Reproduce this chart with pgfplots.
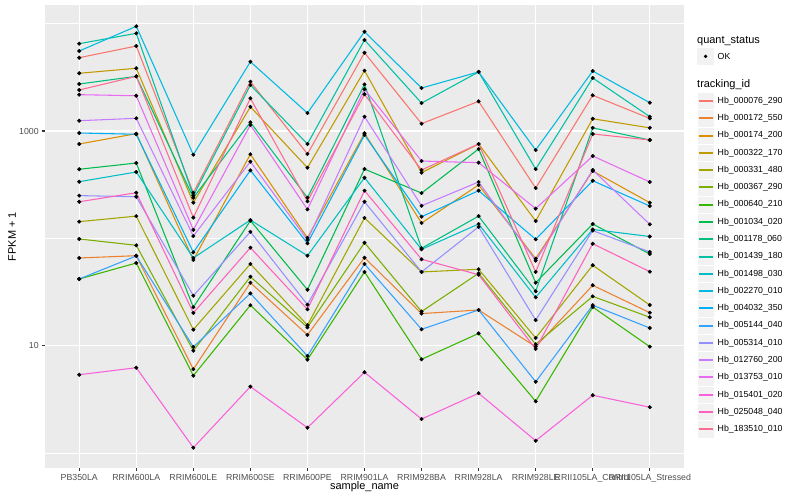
\documentclass[border=0pt]{standalone}
\usepackage{fontspec}
\setmainfont{Liberation Sans}
\usepackage{pgfplots}
\usepackage{pgfplotstable}
\pgfplotsset{compat=1.18}
\definecolor{bgc}{HTML}{EBEBEB}
\definecolor{keyc}{HTML}{F2F2F2}
\definecolor{grey30}{HTML}{4D4D4D}
\definecolor{grey20}{HTML}{333333}
\definecolor{k1}{HTML}{F8766D}
\definecolor{k2}{HTML}{EA8331}
\definecolor{k3}{HTML}{D89000}
\definecolor{k4}{HTML}{C09B00}
\definecolor{k5}{HTML}{A3A500}
\definecolor{k6}{HTML}{7CAE00}
\definecolor{k7}{HTML}{39B600}
\definecolor{k8}{HTML}{00BB4E}
\definecolor{k9}{HTML}{00BF7D}
\definecolor{k10}{HTML}{00C1A3}
\definecolor{k11}{HTML}{00BFC4}
\definecolor{k12}{HTML}{00BAE0}
\definecolor{k13}{HTML}{00B0F6}
\definecolor{k14}{HTML}{35A2FF}
\definecolor{k15}{HTML}{9590FF}
\definecolor{k16}{HTML}{C77CFF}
\definecolor{k17}{HTML}{E76BF3}
\definecolor{k18}{HTML}{FA62DB}
\definecolor{k19}{HTML}{FF62BC}
\definecolor{k20}{HTML}{FF6C91}
\pgfplotstableread{
x s1 s2 s3 s4 s5 s6 s7 s8 s9 s10 s11 s12 s13 s14 s15 s16 s17 s18 s19 s20
0 4820 65.6 757 3450 143 98.6 41.8 440 2740 6510 337 5560 958 41.8 250 1247 2180 5.36 219 2410
1 6190 68.9 944 3840 161 86.1 58.9 503 3230 8130 415 9450 932 68.5 244 1313 2130 6.23 266 3230
2 266 6.03 62.8 215 14.1 8.97 5.25 22.8 239 250 65.6 601 74.1 9.72 29.2 105 120 1.12 20.2 156
3 2880 38.6 607 1680 57.7 43.9 23.8 146 1205 2680 148 4420 430 30.7 115 518 1137 4.15 81.8 2017
4 611 12.6 101 455 15.5 14.8 7.40 33.2 239 757 68.9 1470 89.9 8.01 24.1 96.5 186 1.72 21.8 221
5 5360 66.0 952 3650 155 91.0 48.6 442 2720 7050 367 8420 918 57.7 219 1360 2447 5.65 278 2198
6 1170 19.9 139 409 48.6 20.8 7.46 264 80.8 1820 79.0 2515 159 14.2 48.6 201 525 2.07 63.8 433
7 1890 21.5 314 757 51.5 47.2 13.0 680 161 3550 136 3550 278 21.5 128 335 507 3.60 45.8 757
8 294 9.78 64.6 145 11.8 10.3 3.03 38.6 32.1 442 28.2 665 97.9 4.61 17.3 61.9 189 1.30 9.31 48.6
9 2150 36.5 424 1300 56.1 28.8 22.9 136 1070 3120 121 3620 344 23.8 118 433 585 3.45 89.1 938
10 1310 20.3 215 1070 23.9 18.4 9.78 71.4 824 1360 104 1835 200 14.6 74.6 135 335 2.67 48.9 824
}\data
\begin{document}
\begin{tikzpicture}[x=1bp,y=1bp]
\useasboundingbox (0,0) rectangle (800,500);
\begin{axis}[
  at={(45bp,32bp)}, anchor=south west,
  scale only axis, width=639bp, height=463bp,
  xmin=-0.6, xmax=10.6, ymode=log, ymin=0.7246, ymax=14930,
  axis background/.style={fill=bgc},
  axis line style={draw=none},
  xtick pos=bottom, ytick pos=left,
  xtick={0,...,10},
  xticklabels={PB350LA,RRIM600LA,RRIM600LE,RRIM600SE,RRIM600PE,RRIM901LA,RRIM928BA,RRIM928LA,RRIM928LE,RRII105LA\_Control,RRII105LA\_Stressed},
  ytick={10,1000}, yticklabels={10,1000},
  minor ytick={1,100,10000},
  grid=both,
  major grid style={white, line width=1.07bp},
  minor grid style={white, line width=0.53bp},
  tick align=outside, major tick length=2.75bp, minor tick length=0pt,
  tick style={color=grey20, line width=1.07bp},
  ticklabel style={font=\fontsize{8.8}{10}\selectfont, text=grey30},
  /pgf/number format/assume math mode=true,
  xlabel={sample\_name}, ylabel={FPKM + 1},
  every axis x label/.style={at={(axis description cs:0.5,-0.041)}, anchor=center, font=\fontsize{11}{13}\selectfont},
  every axis y label/.style={at={(axis description cs:-0.0516,0.5)}, rotate=90, anchor=center, font=\fontsize{11}{13}\selectfont},
  clip=false,
]
\pgfplotsinvokeforeach{1,...,20}{
  \addplot[color=k#1, line width=1.07bp, mark=none] table[x=x, y=s#1]{\data};
}
\pgfplotsinvokeforeach{1,...,20}{
  \addplot[only marks, mark=*, mark size=1.8bp, black] table[x=x, y=s#1]{\data};
}
\end{axis}
% legend
\node[anchor=west, inner sep=0pt, font=\fontsize{11}{13}\selectfont] at (697,459.3) {quant\_status};
\fill[keyc] (697,435) rectangle (714.3,452.3);
\fill[black] (705.6,443.6) circle (1.8);
\node[anchor=west, inner sep=0pt, font=\fontsize{8.8}{10}\selectfont] at (717.5,443.6) {OK};
\node[anchor=west, inner sep=0pt, font=\fontsize{11}{13}\selectfont] at (697,415.7) {tracking\_id};
\foreach \i/\n in {1/Hb\_000076\_290,2/Hb\_000172\_550,3/Hb\_000174\_200,4/Hb\_000322\_170,5/Hb\_000331\_480,6/Hb\_000367\_290,7/Hb\_000640\_210,8/Hb\_001034\_020,9/Hb\_001178\_060,10/Hb\_001439\_180,11/Hb\_001498\_030,12/Hb\_002270\_010,13/Hb\_004032\_350,14/Hb\_005144\_040,15/Hb\_005314\_010,16/Hb\_012760\_200,17/Hb\_013753\_010,18/Hb\_015401\_020,19/Hb\_025048\_040,20/Hb\_183510\_010}{
  \pgfmathsetmacro{\yy}{399-17.28*(\i-1)}
  \pgfmathsetmacro{\yl}{round(\yy)}
  \fill[keyc, draw=white, line width=0.5bp] (697,\yy-8.64) rectangle (714.3,\yy+8.64);
  \draw[color=k\i, line width=2bp] (698.7,\yl) -- (712.6,\yl);
  \node[anchor=west, inner sep=0pt, font=\fontsize{8.8}{10}\selectfont] at (717.5,\yy) {\n};
}
\end{tikzpicture}
\end{document}
